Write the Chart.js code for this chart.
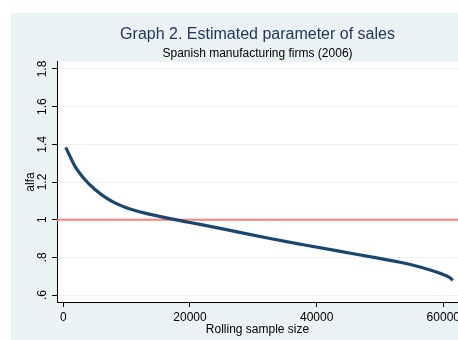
<!DOCTYPE html>
<html>
<head>
<meta charset="utf-8">
<script src="https://cdn.jsdelivr.net/npm/chart.js@4/dist/chart.umd.min.js"></script>
<style>
  html, body { margin: 0; padding: 0; background: #ffffff; overflow: hidden; }
  #chart { display: block; }
</style>
</head>
<body>
<canvas id="chart" width="458" height="340"></canvas>
<script>
// Rolling sample size and the estimated sales parameter (alfa)
const SAMPLE_SIZE = [380, 1847, 3426, 5005, 6584, 8163, 9742, 11321, 12900, 14480,
  16060, 17640, 19220, 21585, 26322, 32639, 37897, 44166, 49487, 53166, 56324, 59482, 61061, 61487];
const ALFA = [1.384, 1.283, 1.212, 1.160, 1.120, 1.089, 1.066, 1.049, 1.035, 1.023,
  1.011, 1.000, 0.990, 0.975, 0.943, 0.900, 0.867, 0.829, 0.797, 0.774, 0.749, 0.715, 0.692, 0.678];

// Reference level for alfa
const REF_LEVEL = 1;

// Axis ranges and ticks
const X_MIN = -1000;
const X_MAX = 62320;
const X_TICKS = [0, 20000, 40000, 60000];
const X_TICK_LABELS = ['0', '20000', '40000', '60000'];
const Y_MIN = 0.563;
const Y_MAX = 1.837;
const Y_TICKS = [0.6, 0.8, 1.0, 1.2, 1.4, 1.6, 1.8];
const Y_TICK_LABELS = ['.6', '.8', '1', '1.2', '1.4', '1.6', '1.8'];

const TITLE = 'Graph 2. Estimated parameter of sales';
const SUBTITLE = 'Spanish manufacturing firms (2006)';
const X_TITLE = 'Rolling sample size';
const Y_TITLE = 'alfa';

const BAND = '#eaf2f3';
const FONT = "'Liberation Sans', Arial, Helvetica, sans-serif";
Chart.defaults.font.family = FONT;
Chart.defaults.color = '#000000';

// Light outer band with a white plot region
const backgroundPlugin = {
  id: 'bands',
  beforeDraw(chart) {
    const { ctx, width, height, chartArea } = chart;
    ctx.save();
    ctx.fillStyle = '#ffffff';
    ctx.fillRect(0, 0, width, height);
    ctx.fillStyle = BAND;
    ctx.fillRect(11, 13, width - 11, height - 13);
    ctx.fillStyle = '#ffffff';
    ctx.fillRect(chartArea.left, chartArea.top, chartArea.right - chartArea.left, chartArea.bottom - chartArea.top);
    ctx.restore();
  }
};

new Chart(document.getElementById('chart'), {
  type: 'line',
  data: {
    datasets: [
      {
        label: Y_TITLE,
        data: SAMPLE_SIZE.map((x, i) => ({ x: x, y: ALFA[i] })),
        borderColor: '#1a476f',
        borderWidth: 3.2,
        pointRadius: 0,
        cubicInterpolationMode: 'monotone',
        fill: false,
        order: 0
      },
      {
        label: 'reference',
        data: [{ x: X_MIN, y: REF_LEVEL }, { x: X_MAX, y: REF_LEVEL }],
        borderColor: '#ff7f7f',
        borderWidth: 2,
        pointRadius: 0,
        fill: false,
        order: 1
      }
    ]
  },
  options: {
    responsive: false,
    animation: false,
    events: [],
    layout: { padding: { left: 11, top: 0, right: 0, bottom: 0 } },
    plugins: {
      legend: { display: false },
      tooltip: { enabled: false },
      title: {
        display: true,
        text: TITLE,
        fullSize: false,
        color: '#23375a',
        font: { family: FONT, size: 16, weight: 'normal' },
        padding: { top: 25.4, bottom: 0 }
      },
      subtitle: {
        display: true,
        text: SUBTITLE,
        fullSize: false,
        color: '#000000',
        font: { family: FONT, size: 12, weight: 'normal' },
        padding: { top: 1.4, bottom: 1.6 }
      }
    },
    scales: {
      x: {
        type: 'linear',
        min: X_MIN,
        max: X_MAX,
        afterBuildTicks: (s) => { s.ticks = X_TICKS.map(v => ({ value: v })); },
        afterFit: (s) => { s.height = 38; s.paddingLeft = 0; s.paddingRight = 0; },
        ticks: {
          color: '#000000',
          font: { size: 12 },
          padding: 3,
          maxRotation: 0,
          minRotation: 0,
          callback: (v, i) => X_TICK_LABELS[i]
        },
        grid: { drawOnChartArea: false, drawTicks: true, tickLength: 5, tickColor: '#000000', tickWidth: 1 },
        border: { display: true, color: '#000000', width: 1 },
        title: {
          display: true,
          text: X_TITLE,
          color: '#000000',
          font: { size: 12 },
          padding: { top: 0, bottom: 2.8 }
        }
      },
      y: {
        type: 'linear',
        min: Y_MIN,
        max: Y_MAX,
        afterBuildTicks: (s) => { s.ticks = Y_TICKS.map(v => ({ value: v })); },
        afterFit: (s) => { s.width = 46; s.paddingTop = 0; s.paddingBottom = 0; },
        ticks: {
          color: '#000000',
          font: { size: 12 },
          padding: 0.5,
          minRotation: 90,
          maxRotation: 90,
          crossAlign: 'center',
          callback: (v, i) => Y_TICK_LABELS[i]
        },
        grid: { drawOnChartArea: true, color: BAND, lineWidth: 1, drawTicks: true, tickLength: 5, tickColor: '#000000', tickWidth: 1 },
        border: { display: true, color: '#000000', width: 1 },
        title: {
          display: true,
          text: Y_TITLE,
          color: '#000000',
          font: { size: 12 },
          padding: { top: 12.1, bottom: 0 }
        }
      }
    }
  },
  plugins: [backgroundPlugin]
});
</script>
</body>
</html>
